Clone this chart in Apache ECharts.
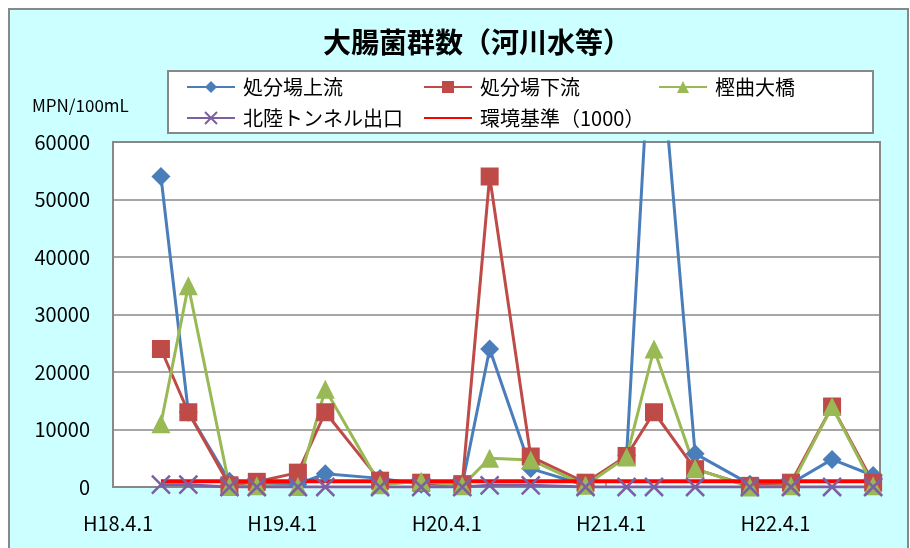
<!DOCTYPE html>
<html>
<head>
<meta charset="utf-8">
<script src="https://cdn.jsdelivr.net/npm/echarts@6/dist/echarts.min.js"></script>
<style>
  html, body { margin: 0; padding: 0; background: #fff; overflow: hidden; }
  #frame { position: absolute; left: 8px; top: 8px; width: 897px; height: 560px;
           background: #ccffff; border: 2px solid #888; }
  #chart { position: absolute; left: 0; top: 0; width: 910px; height: 548px; }
</style>
</head>
<body>
<div id="frame"></div>
<div id="chart"></div>
<script>
// 採水月（平成）
let sampleMonths = ['H18.7', 'H18.9', 'H18.12', 'H19.2', 'H19.5', 'H19.7', 'H19.11', 'H20.2', 'H20.5', 'H20.7',
                    'H20.10', 'H21.2', 'H21.5', 'H21.7', 'H21.10', 'H22.2', 'H22.5', 'H22.8', 'H22.11'];
let yearLabels = ['H18.4.1', 'H19.4.1', 'H20.4.1', 'H21.4.1', 'H22.4.1'];

// MPN/100mL
let upstream    = [54000, 13000, 1000, 700, 500, 2300, 1500, 500, 400, 24000, 3200, 300, 5500, 90000, 5800, 500, 600, 4800, 2000];
let downstream  = [24000, 13000, 300, 900, 2500, 13000, 1100, 750, 500, 54000, 5300, 750, 5400, 13000, 3100, 200, 750, 14000, 750];
let kashimagari = [11000, 35000, 100, 200, 100, 17000, 400, 1000, 200, 5000, 4700, 300, 5200, 24000, 3200, 0, 200, 14000, 200];
let tunnel      = [400, 400, 0, 0, 0, 0, 0, 0, 0, 300, 300, 0, 0, 0, 0, 0, 0, 0, 0];
let standard = 1000;

let seriesNames = ['処分場上流', '処分場下流', '樫曲大橋', '北陸トンネル出口', '環境基準（1000）'];

// H18.4.1 からの月数（月の中ごろに採水）
function monthIndex(s) {
    let p = s.slice(1).split('.');
    return (+p[0] - 18) * 12 + (+p[1] - 4) + 0.5;
}
function pairs(values) {
    return sampleMonths.map(function (m, i) { return [monthIndex(m), values[i]]; });
}

let font = '"Noto Sans CJK JP", "Noto Sans", sans-serif';
let myChart = echarts.init(document.getElementById('chart'));

function legendCol(left, names) {
    return {
        data: names,
        left: left,
        top: 77,
        orient: 'vertical',
        padding: 0,
        itemWidth: 48,
        itemHeight: 15,
        itemGap: 11,
        lineStyle: { width: 2 },
        textStyle: { fontSize: 20, lineHeight: 20, color: '#000', fontFamily: font, padding: [0, 0, 0, 3] }
    };
}

let option = {
    animation: false,
    backgroundColor: 'transparent',
    title: {
        text: '大腸菌群数（河川水等）',
        left: 477,
        top: 28,
        padding: 0,
        textAlign: 'center',
        textStyle: { fontSize: 28, fontWeight: 'bold', color: '#000', fontFamily: font }
    },
    graphic: [
        {
            type: 'rect',
            shape: { x: 168, y: 71, width: 705, height: 62 },
            style: { fill: '#fff', stroke: '#888', lineWidth: 2 }
        },
        {
            type: 'text',
            left: 32,
            top: 97,
            style: { text: 'MPN/100mL', fontSize: 17, fill: '#000', fontFamily: font }
        }
    ],
    legend: [
        legendCol(186, [seriesNames[0], seriesNames[3]]),
        legendCol(423, [seriesNames[1], {
            name: seriesNames[4],
            itemStyle: { color: 'transparent', borderColor: 'transparent', opacity: 0 }
        }]),
        legendCol(658, [seriesNames[2]])
    ],
    grid: {
        left: 113,
        right: 30,
        top: 142,
        bottom: 61,
        show: true,
        backgroundColor: '#fff',
        borderColor: '#888',
        borderWidth: 2,
        outerBoundsMode: 'none'
    },
    xAxis: {
        type: 'value',
        min: 0,
        max: 56,
        interval: 12,
        axisLine: { lineStyle: { color: '#888', width: 2 } },
        axisTick: { show: true, inside: true, length: 6, lineStyle: { color: '#888', width: 1.5 } },
        splitLine: { show: false },
        axisLabel: {
            margin: 26,
            fontSize: 20,
            color: '#000',
            fontFamily: font,
            padding: [0, 0, 0, 10],
            showMaxLabel: false,
            formatter: function (v) {
                return v % 12 === 0 ? yearLabels[v / 12] : '';
            }
        }
    },
    yAxis: {
        type: 'value',
        min: 0,
        max: 60000,
        interval: 10000,
        axisLine: { show: true, lineStyle: { color: '#888', width: 2 } },
        axisTick: { show: false },
        splitLine: { lineStyle: { color: '#888', width: 1.5 } },
        axisLabel: {
            margin: 23, fontSize: 20, color: '#000', fontFamily: font,
            formatter: function (v) { return String(v); }
        }
    },
    series: [
        {
            name: seriesNames[0], type: 'line', data: pairs(upstream),
            symbol: 'diamond', symbolSize: 19,
            itemStyle: { color: '#4a7ebb' }, lineStyle: { width: 3, color: '#4a7ebb' }
        },
        {
            name: seriesNames[1], type: 'line', data: pairs(downstream),
            symbol: 'rect', symbolSize: 18,
            itemStyle: { color: '#be4b48' }, lineStyle: { width: 3, color: '#be4b48' }
        },
        {
            name: seriesNames[2], type: 'line', data: pairs(kashimagari),
            symbol: 'triangle', symbolSize: 19,
            itemStyle: { color: '#98b954' }, lineStyle: { width: 3, color: '#98b954' }
        },
        {
            name: seriesNames[3], type: 'line', data: pairs(tunnel),
            symbol: 'path://M0,0 L10,10 M10,0 L0,10', symbolSize: 18,
            itemStyle: { color: '#7d60a0', borderColor: '#7d60a0', borderWidth: 2.5 },
            lineStyle: { width: 3, color: '#7d60a0' }
        },
        {
            name: seriesNames[4], type: 'line', data: pairs(sampleMonths.map(function () { return standard; })),
            symbol: 'none',
            itemStyle: { color: '#ff0000' }, lineStyle: { width: 4, color: '#ff0000' }
        }
    ]
};

myChart.setOption(option);
window.onresize = function () {
    myChart.resize();
};
</script>
</body>
</html>
